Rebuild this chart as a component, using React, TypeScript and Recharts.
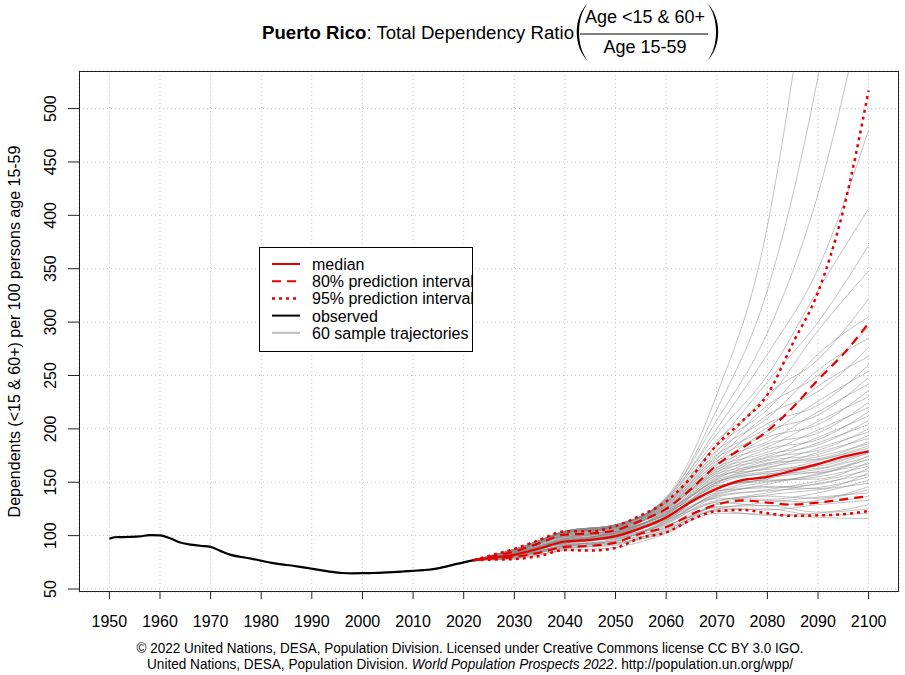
import { LineChart, Line, XAxis, YAxis, CartesianGrid } from "recharts";

const FONT = '"Liberation Sans", Arial, Helvetica, sans-serif';
const RED = "#e60000";

const X_TICKS = [1950, 1960, 1970, 1980, 1990, 2000, 2010, 2020, 2030, 2040, 2050, 2060, 2070, 2080, 2090, 2100];
const Y_TICKS = [50, 100, 150, 200, 250, 300, 350, 400, 450, 500];

// observed 1950-2022
const OBS_YEARS = [1950, 1951, 1952, 1954, 1956, 1958, 1960, 1962, 1964, 1966, 1968, 1970, 1972, 1974, 1976, 1978, 1980, 1982, 1984, 1986, 1988, 1990, 1992, 1994, 1996, 1998, 2000, 2002, 2004, 2006, 2008, 2010, 2012, 2014, 2016, 2018, 2020, 2022];
const OBS_VALUES = [97, 98.5, 98.6, 98.8, 99.3, 100.5, 100.3, 97.5, 93.5, 91.5, 90.5, 89.5, 85.5, 82, 80, 78.5, 76.5, 74.5, 73, 72, 70.5, 69, 67.5, 66, 65, 64.7, 64.8, 65, 65.3, 65.8, 66.4, 67, 67.7, 68.7, 70.5, 72.8, 75, 77];

// projections
const PROJ_YEARS = [2022, 2025, 2030, 2035, 2040, 2045, 2050, 2055, 2060, 2065, 2070, 2075, 2080, 2085, 2090, 2095, 2100];
const MEDIAN = [77, 79, 82, 88, 94.5, 96, 99.5, 107, 117, 132, 144, 152, 155, 161, 167, 174, 179];
const LOW_80 = [77, 78.5, 80, 84, 89.5, 90.5, 93.5, 102, 108, 120, 129, 133, 131, 129, 131, 134, 137];
const HIGH_80 = [77, 80, 85, 93, 101, 102, 105, 114, 125, 144, 166, 182, 198, 220, 246, 270, 299];
const LOW_95 = [77, 77.5, 78, 81, 86.5, 86, 88.5, 98, 103, 115, 123, 124, 121, 118.5, 119, 120, 123];
const HIGH_95 = [77, 81, 87.5, 96, 104, 104, 109, 119, 132, 155, 185, 207, 232, 280, 328, 405, 517];

// 60 sample trajectories
const TRAJ_YEARS = [2022, 2030, 2040, 2050, 2060, 2070, 2080, 2090, 2100];
const TRAJECTORIES = [
  [77, 80, 88, 91, 104, 121, 120, 117, 116],
  [77, 79, 86, 89, 102, 124, 125, 119, 121],
  [77, 81, 89, 92, 106, 123, 119, 121, 125],
  [77, 78, 87, 93, 103, 127, 128, 122, 129],
  [77, 82, 90, 94, 109, 126, 124, 129, 133],
  [77, 80, 91, 95, 105, 129, 133, 131, 137],
  [77, 81, 88, 96, 110, 125, 131, 136, 140],
  [77, 83, 92, 93, 108, 131, 128, 133, 143],
  [77, 79, 90, 97, 112, 133, 137, 135, 146],
  [77, 82, 93, 98, 107, 130, 138, 143, 149],
  [77, 81, 91, 95, 113, 135, 134, 140, 152],
  [77, 84, 94, 99, 111, 136, 142, 145, 155],
  [77, 80, 92, 100, 115, 132, 140, 149, 157],
  [77, 83, 95, 97, 112, 139, 146, 144, 159],
  [77, 82, 89, 101, 116, 137, 143, 151, 161],
  [77, 81, 93, 98, 118, 142, 145, 148, 163],
  [77, 84, 96, 102, 114, 140, 150, 155, 165],
  [77, 83, 94, 99, 117, 138, 148, 158, 167],
  [77, 80, 91, 101, 115, 145, 152, 153, 169],
  [77, 85, 95, 103, 120, 141, 154, 160, 171],
  [77, 82, 97, 100, 116, 147, 151, 157, 172],
  [77, 83, 93, 104, 119, 143, 156, 162, 174],
  [77, 84, 96, 99, 114, 148, 158, 159, 175],
  [77, 81, 94, 102, 121, 146, 153, 166, 177],
  [77, 85, 98, 105, 118, 150, 160, 163, 178],
  [77, 83, 95, 101, 122, 144, 157, 168, 179],
  [77, 82, 97, 104, 120, 152, 162, 165, 180],
  [77, 84, 93, 103, 117, 149, 164, 171, 182],
  [77, 86, 99, 106, 123, 151, 159, 170, 184],
  [77, 83, 96, 102, 119, 154, 166, 174, 186],
  [77, 85, 98, 105, 124, 150, 168, 172, 188],
  [77, 84, 95, 103, 121, 156, 163, 178, 191],
  [77, 86, 100, 107, 122, 153, 170, 176, 194],
  [77, 83, 97, 104, 125, 158, 167, 182, 197],
  [77, 85, 99, 102, 123, 155, 173, 180, 200],
  [77, 87, 101, 108, 126, 160, 171, 187, 204],
  [77, 84, 97, 106, 120, 157, 176, 185, 208],
  [77, 86, 100, 104, 127, 162, 174, 192, 212],
  [77, 85, 102, 108, 124, 159, 181, 190, 216],
  [77, 87, 99, 106, 128, 164, 178, 199, 220],
  [77, 84, 101, 107, 125, 161, 186, 196, 225],
  [77, 86, 103, 109, 129, 167, 183, 207, 230],
  [77, 87, 100, 108, 126, 163, 192, 204, 236],
  [77, 85, 102, 107, 130, 170, 188, 216, 242],
  [77, 86, 103, 110, 127, 166, 198, 213, 248],
  [77, 86, 101, 109, 131, 173, 195, 226, 254],
  [77, 87, 103, 108, 128, 169, 205, 222, 260],
  [77, 85, 104, 110, 132, 176, 201, 240, 268],
  [77, 87, 102, 109, 129, 172, 213, 235, 276],
  [77, 86, 103, 108, 131, 180, 210, 255, 285],
  [77, 86, 104, 110, 130, 175, 222, 250, 295],
  [77, 87, 103, 109, 133, 184, 218, 270, 305],
  [77, 86, 104, 110, 131, 179, 232, 265, 322],
  [77, 87, 103, 109, 134, 189, 228, 292, 348],
  [77, 86, 104, 110, 132, 186, 244, 300, 372],
  [77, 87, 103, 108, 135, 195, 250, 330, 406],
  [77, 86, 104, 110, 133, 200, 270, 350, 480],
  [77, 87, 103, 109, 135, 208, 290, 420, 620],
  [77, 87, 104, 110, 134, 218, 330, 530, 820],
  [77, 87, 104, 110, 136, 232, 390, 720, 1250],
];

const LEGEND_ITEMS = [
  { label: "median", color: RED, dash: undefined, width: 2 },
  { label: "80% prediction interval", color: RED, dash: "9 6", width: 2 },
  { label: "95% prediction interval", color: RED, dash: "3 4", width: 2.5 },
  { label: "observed", color: "#000", dash: undefined, width: 2 },
  { label: "60 sample trajectories", color: "#bdbdbd", dash: undefined, width: 2 },
];

const toSeries = (years: number[], values: number[]) =>
  years.map((year, i) => ({ year, value: values[i] }));

const XTick = ({ x, payload }: any) => (
  <text x={x} y={627} textAnchor="middle" fontSize={16} fill="#000" fontFamily={FONT}>
    {payload.value}
  </text>
);

const YTick = ({ y, payload }: any) => (
  <text
    x={56}
    y={y}
    transform={`rotate(-90 56 ${y})`}
    textAnchor="middle"
    fontSize={16}
    fill="#000"
    fontFamily={FONT}
  >
    {payload.value}
  </text>
);

function Overlay() {
  return (
    <svg
      width={905}
      height={675}
      style={{ position: "absolute", left: 0, top: 0, pointerEvents: "none" }}
      fontFamily={FONT}
    >
      {/* title */}
      <text x={262} y={39} fontSize={18} fill="#000" textLength={312} lengthAdjust="spacingAndGlyphs">
        <tspan fontWeight="bold">Puerto Rico</tspan>
        <tspan>: Total Dependency Ratio</tspan>
      </text>
      <path d="M 588 3 C 573 17 573 47 588 61 C 576 47 576 17 588 3 Z" fill="#000" />
      <path d="M 707 3 C 722 17 722 47 707 61 C 719 47 719 17 707 3 Z" fill="#000" />
      <text x={645} y={23} fontSize={18} textAnchor="middle" fill="#000">Age &lt;15 &amp; 60+</text>
      <line x1={580} x2={708} y1={34} y2={34} stroke="#000" strokeWidth={1} />
      <text x={645} y={53} fontSize={18} textAnchor="middle" fill="#000">Age 15-59</text>

      {/* plot box */}
      <rect x={79.5} y={71.5} width={819} height={520} fill="none" stroke="#222" strokeWidth={1} />

      {/* y label */}
      <text
        x={19.5}
        y={331.5}
        transform="rotate(-90 19.5 331.5)"
        textAnchor="middle"
        fontSize={16}
        fill="#000"
      >
        Dependents (&lt;15 &amp; 60+) per 100 persons age 15-59
      </text>

      {/* legend */}
      <rect x={259.5} y={247.5} width={213} height={104} fill="#fff" stroke="#000" strokeWidth={1} />
      {LEGEND_ITEMS.map((item, i) => {
        const cy = 264 + i * 17.2;
        return (
          <g key={item.label}>
            <line
              x1={272}
              x2={300}
              y1={cy}
              y2={cy}
              stroke={item.color}
              strokeWidth={item.width}
              strokeDasharray={item.dash}
            />
            <text x={312} y={cy + 6} fontSize={16} fill="#000">
              {item.label}
            </text>
          </g>
        );
      })}

      {/* footer */}
      <text x={470} y={653} fontSize={14} textAnchor="middle" fill="#000" textLength={667} lengthAdjust="spacingAndGlyphs">
        © 2022 United Nations, DESA, Population Division. Licensed under Creative Commons license CC BY 3.0 IGO.
      </text>
      <text x={470} y={669} fontSize={14} textAnchor="middle" fill="#000" textLength={646} lengthAdjust="spacingAndGlyphs">
        <tspan>United Nations, DESA, Population Division. </tspan>
        <tspan fontStyle="italic">World Population Prospects 2022</tspan>
        <tspan>. http://population.un.org/wpp/</tspan>
      </text>
    </svg>
  );
}

export default function App() {
  return (
    <div style={{ position: "absolute", left: 0, top: 0, width: 905, height: 675, background: "#fff" }}>
      <LineChart
        width={905}
        height={675}
        margin={{ top: 71, right: 6, bottom: 0, left: 0 }}
        style={{ fontFamily: FONT }}
      >
        <CartesianGrid stroke="#c4c4c4" strokeDasharray="1 3" />
        <XAxis
          type="number"
          dataKey="year"
          domain={[1944, 2106]}
          ticks={X_TICKS}
          allowDataOverflow
          height={83}
          tickSize={7}
          axisLine={false}
          tickLine={{ stroke: "#222" }}
          tick={<XTick />}
          interval={0}
        />
        <YAxis
          type="number"
          domain={[47.2, 535.2]}
          ticks={Y_TICKS}
          allowDataOverflow
          width={79}
          tickSize={11}
          axisLine={false}
          tickLine={{ stroke: "#222" }}
          tick={<YTick />}
          interval={0}
        />
        {TRAJECTORIES.map((row, i) => (
          <Line
            key={`traj-${i}`}
            data={toSeries(TRAJ_YEARS, row)}
            dataKey="value"
            type="monotone"
            stroke="#888888"
            strokeOpacity={0.5}
            strokeWidth={1}
            dot={false}
            activeDot={false}
            isAnimationActive={false}
          />
        ))}
        <Line
          data={toSeries(OBS_YEARS, OBS_VALUES)}
          dataKey="value"
          type="monotone"
          stroke="#000"
          strokeWidth={2.2}
          dot={false}
          activeDot={false}
          isAnimationActive={false}
        />
        <Line
          data={toSeries(PROJ_YEARS, LOW_95)}
          dataKey="value"
          type="monotone"
          stroke={RED}
          strokeWidth={2.5}
          strokeDasharray="3 4"
          dot={false}
          activeDot={false}
          isAnimationActive={false}
        />
        <Line
          data={toSeries(PROJ_YEARS, HIGH_95)}
          dataKey="value"
          type="monotone"
          stroke={RED}
          strokeWidth={2.5}
          strokeDasharray="3 4"
          dot={false}
          activeDot={false}
          isAnimationActive={false}
        />
        <Line
          data={toSeries(PROJ_YEARS, LOW_80)}
          dataKey="value"
          type="monotone"
          stroke={RED}
          strokeWidth={2.2}
          strokeDasharray="9 6"
          dot={false}
          activeDot={false}
          isAnimationActive={false}
        />
        <Line
          data={toSeries(PROJ_YEARS, HIGH_80)}
          dataKey="value"
          type="monotone"
          stroke={RED}
          strokeWidth={2.2}
          strokeDasharray="9 6"
          dot={false}
          activeDot={false}
          isAnimationActive={false}
        />
        <Line
          data={toSeries(PROJ_YEARS, MEDIAN)}
          dataKey="value"
          type="monotone"
          stroke={RED}
          strokeWidth={2.2}
          dot={false}
          activeDot={false}
          isAnimationActive={false}
        />
      </LineChart>
      <Overlay />
    </div>
  );
}
